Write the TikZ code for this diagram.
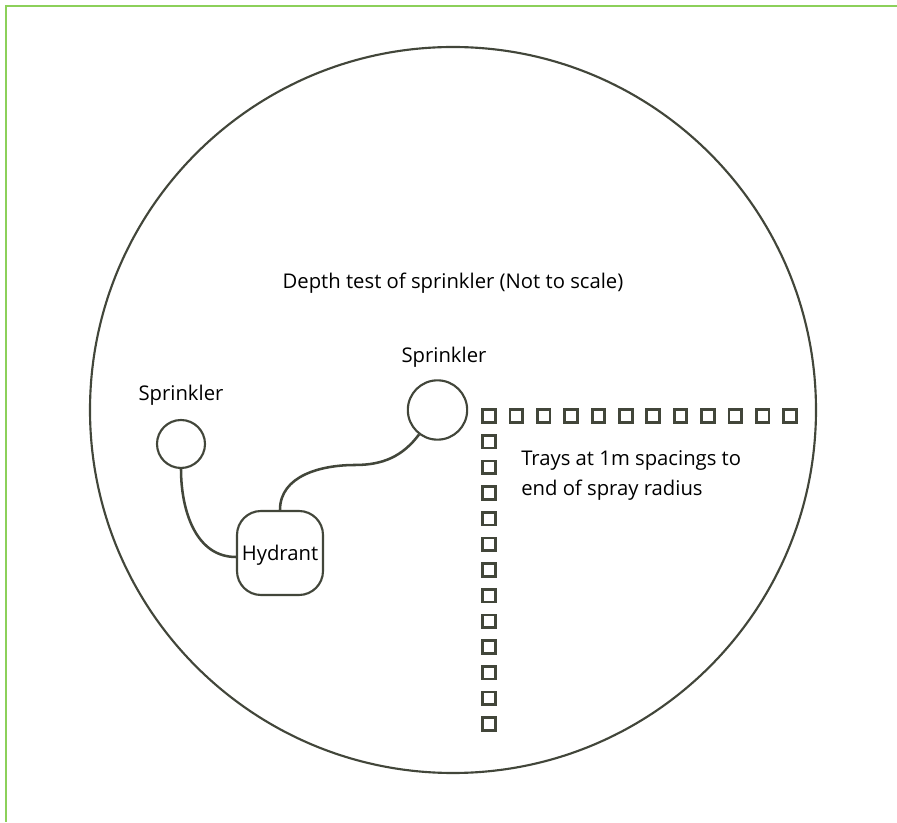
\documentclass[tikz,border=0pt]{standalone}
\usepackage{fontspec}
\setmainfont{Open Sans}
\definecolor{ink}{RGB}{66,70,58}
\definecolor{frame}{RGB}{140,208,90}
\begin{document}
\begin{tikzpicture}[x=0.75pt,y=0.75pt,
  pipe/.style={draw=ink,line width=1.9pt},
  sprk/.style={circle,draw=ink,line width=1.6pt,inner sep=0pt},
  lbl/.style={font=\fontsize{15.2pt}{18pt}\selectfont,text=black,inner sep=0pt},
  tray/.style={draw=ink,line width=2.1pt,minimum size=9.5pt,inner sep=0pt,fill=white}]
\useasboundingbox (0,0) rectangle (897,822);
\draw[frame,line width=1.6pt] (897,816) -- (6,816) -- (6,0);
\node[circle,draw=ink,line width=1.6pt,minimum size=544.5pt,inner sep=0pt] (big) at (453,412) {};
\node[lbl] (title) at (453,539) {Depth test of sprinkler (Not to scale)};
\node[sprk,minimum size=36pt] (s1) at (181,378) {};
\node[lbl] (l1) at (181,427) {Sprinkler};
\node[sprk,minimum size=44.5pt] (s2) at (437.5,412) {};
\node[lbl] (l2) at (444,465) {Sprinkler};
\node[draw=ink,line width=1.6pt,rounded corners=18pt,minimum width=64.5pt,minimum height=63pt,inner sep=0pt] (h) at (280,269) {};
\node[lbl] (htxt) at (280,266.5) {Hydrant};
\coordinate (mid) at (355,357);
\draw[pipe] (s1.south) to[out=-90,in=180] ([yshift=-3pt]h.west);
\draw[pipe] (h.north) to[out=90,in=180] (mid) to[out=0,in=233] (s2.233);
\foreach \i in {0,...,11} {
  \node[tray] (th\i) at (489+27.36*\i,406) {};
}
\foreach \j in {1,...,12} {
  \node[tray] (tv\j) at (489,406-25.67*\j) {};
}
\node[lbl,anchor=west,align=left,font=\fontsize{15.2pt}{22.5pt}\selectfont] (txt) at (521,347) {Trays at 1m spacings to\\end of spray radius};
\end{tikzpicture}
\end{document}
